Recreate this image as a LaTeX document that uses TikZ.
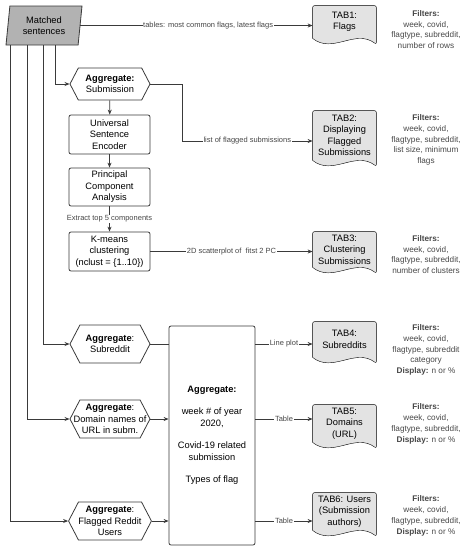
\documentclass[tikz,border=0pt]{standalone}
\usepackage{fontspec}
\setmainfont{Liberation Sans}
\usetikzlibrary{shapes.geometric,shapes.symbols,arrows.meta,backgrounds}
\definecolor{lncol}{HTML}{3A3A3A}
\definecolor{docgray}{HTML}{E3E3E3}
\definecolor{msgray}{HTML}{B2B2B2}
\definecolor{txtgray}{HTML}{474747}

\begin{document}
\begin{tikzpicture}[x=1pt, y=-1pt, thick, color=lncol,
  every node/.style={font=\fontsize{9.3}{11.5}\selectfont, align=center, text=black},
  proc/.style={draw, rounded corners=2pt, minimum width=81pt, minimum height=39pt, inner sep=1pt},
  agg/.style={draw, signal, signal to=east and west, signal pointer angle=125,
              minimum width=80pt, minimum height=38pt, inner sep=0pt},
  tabdoc/.style={minimum width=63pt, inner sep=0pt},
  filt/.style={font=\fontsize{8.2}{10.8}\selectfont, text=txtgray},
  lbl/.style={font=\fontsize{7.5}{9}\selectfont, text=txtgray, fill=white, inner sep=0.6pt},
  arr/.style={-{Stealth[length=5pt,width=4pt]}}]
\useasboundingbox (0,0) rectangle (467,550);

% source
\node[draw, fill=msgray, trapezium, trapezium left angle=78, trapezium right angle=102,
      trapezium stretches body, minimum width=76pt, minimum height=39pt, inner sep=0pt]
      (ms) at (44,25.5) {Matched\\sentences};
\coordinate (ms1) at (10,45);
\coordinate (ms2) at (27,45);
\coordinate (ms3) at (43,45);
\coordinate (ms4) at (55,45);

% submission branch
\node[agg, minimum height=32pt] (hsub) at (110,84) {\textbf{Aggregate:}\\Submission};
\node[proc] (use) at (109.5,134.5) {Universal\\Sentence\\Encoder};
\node[proc, minimum height=38pt] (pca) at (109.5,187) {Principal\\Component\\Analysis};
\node[proc] (km) at (109.5,251.5) {K-means\\clustering\\(nclust = \{1..10\})};

% other aggregates
\node[agg] (hsr) at (110,344) {\textbf{Aggregate}:\\Subreddit};
\node[agg] (hdom) at (110,419) {\textbf{Aggregate}:\\\makebox[56pt]{Domain names of}\\URL in subm.};
\node[agg] (husr) at (110,521) {\textbf{Aggregate}:\\Flagged Reddit\\Users};
\node[proc, minimum width=86pt, minimum height=219pt] (big) at (212,435.5)
  {\textbf{Aggregate:}\\[11pt]week \# of year\\2020,\\[11pt]Covid-19 related\\submission\\[11pt]Types of flag};

% tabs
\node[tabdoc, minimum height=32pt] (tab1) at (344.5,22) {TAB1:\\Flags};
\node[tabdoc, minimum height=49pt] (tab2) at (344.5,135.5) {TAB2:\\Displaying\\Flagged\\Submissions};
\node[tabdoc, minimum height=35pt] (tab3) at (344.5,249.5) {TAB3:\\Clustering\\Submissions};
\node[tabdoc, minimum height=35pt] (tab4) at (344.5,339.5) {TAB4:\\Subreddits};
\node[tabdoc, minimum height=37pt] (tab5) at (344.5,423.5) {TAB5:\\Domains\\(URL)};
\node[tabdoc, minimum height=37pt] (tab6) at (344.5,511.5) {TAB6: Users\\(Submission\\authors)};
\begin{scope}[on background layer]
\foreach \t in {tab1,tab2,tab3,tab4,tab5,tab6}
  \draw[fill=docgray, rounded corners=2pt] (\t.south west) -- (\t.north west) -- (\t.north east)
    -- ([yshift=-6pt]\t.south east) [sharp corners] .. controls +(-21pt,16pt) and +(20pt,-16pt) .. (\t.south west) -- cycle;
\end{scope}

% filters
\node[filt] (f1) at (426,29.5) {\textbf{Filters:}\\week, covid,\\flagtype, subreddit,\\number of rows};
\node[filt] (f2) at (426,140) {\textbf{Filters:}\\week, covid,\\flagtype, subreddit,\\list size, minimum\\flags};
\node[filt] (f3) at (426,254.5) {\textbf{Filters:}\\week, covid,\\flagtype, subreddit,\\number of clusters};
\node[filt] (f4) at (426,350) {\textbf{Filters:}\\week, covid,\\flagtype, subreddit\\category\\\textbf{Display:} n or \%};
\node[filt] (f5) at (426,424) {\textbf{Filters:}\\week, covid,\\flagtype, subreddit,\\\textbf{Display:} n or \%};
\node[filt] (f6) at (426,516) {\textbf{Filters:}\\week, covid,\\flagtype, subreddit,\\\textbf{Display:} n or \%};

% connectors
\draw[arr] (ms4) |- (hsub.west);
\draw[arr] (ms3) |- (hsr.west);
\draw[arr] (ms2) |- (hdom.west);
\draw[arr] (ms1) |- (husr.west);
\draw[arr] (ms.east) -- (ms.east -| tab1.west) node[lbl, pos=0.55] {tables: most common flags, latest flags};
\coordinate (bend) at (182,141);
\draw[arr] (hsub.east) -| (bend) -- (bend -| tab2.west) node[lbl, midway] {list of flagged submissions};
\draw[arr] (hsub) -- (use);
\draw[arr] (use) -- (pca);
\draw[arr] (pca) -- (km) node[lbl, midway] {Extract top 5 components};
\draw[arr] (km.east) -- (km.east -| tab3.west) node[lbl, midway] {2D scatterplot of\ \ fitst 2 PC};
\draw (hsr.east) -- (hsr.east -| big.west);
\draw[arr] (hdom.east) -- (hdom.east -| big.west);
\draw[arr] (husr.east) -- (husr.east -| big.west);
\draw[arr] (big.east |- hsr.east) -- (hsr.east -| tab4.west) node[lbl, midway] {Line plot};
\draw[arr] (big.east |- hdom.east) -- (hdom.east -| tab5.west) node[lbl, midway] {Table};
\draw[arr] (big.east |- husr.east) -- (husr.east -| tab6.west) node[lbl, midway] {Table};
\end{tikzpicture}
\end{document}
